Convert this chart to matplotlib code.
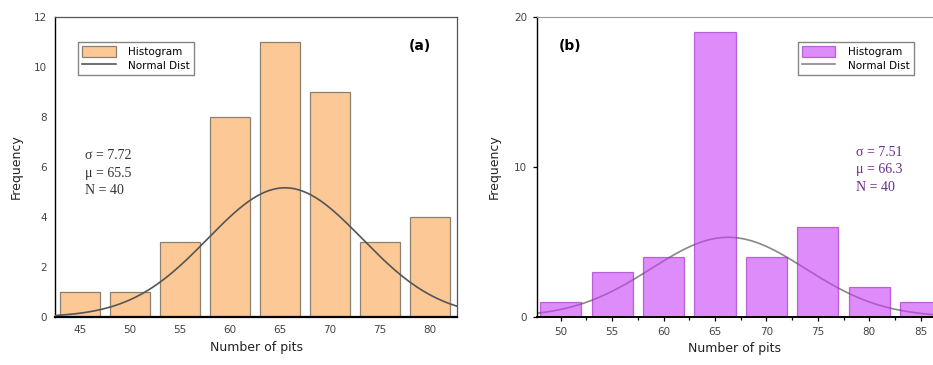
import numpy as np
import matplotlib.pyplot as plt

# panel (a)
centers_a = [45, 50, 55, 60, 65, 70, 75, 80]
counts_a = [1, 1, 3, 8, 11, 9, 3, 4]
mu_a, sigma_a, n_a = 65.5, 7.72, 40

# panel (b)
centers_b = [50, 55, 60, 65, 70, 75, 80, 85]
counts_b = [1, 3, 4, 19, 4, 6, 2, 1]
mu_b, sigma_b, n_b = 66.3, 7.51, 40

# curve scale (peak height ~ scale / (sigma*sqrt(2pi)))
curve_scale = 100.0


def normal_curve(x, mu, sigma):
    return curve_scale / (sigma * np.sqrt(2 * np.pi)) * np.exp(-0.5 * ((x - mu) / sigma) ** 2)


fig = plt.figure(figsize=(9.33, 3.65), dpi=100)

# ---- (a)
ax1 = fig.add_axes([55 / 933, 48 / 365, 402 / 933, 300 / 365])
ax1.bar(centers_a, counts_a, width=4, color="#fcc896", edgecolor="#8c8070", linewidth=0.9,
        label="Histogram", zorder=2)
xa = np.linspace(42.5, 82.7, 300)
ax1.plot(xa, normal_curve(xa, mu_a, sigma_a), color="#555555", lw=1.2, label="Normal Dist", zorder=3)
ax1.set_xlim(42.5, 82.7)
ax1.set_ylim(0, 12)
ax1.set_xticks(centers_a)
ax1.set_yticks(range(0, 13, 2))
ax1.tick_params(length=0, labelsize=7.5, labelcolor="#444444", pad=6)
ax1.set_xlabel("Number of pits", fontsize=9, color="#222222", labelpad=4)
ax1.set_ylabel("Frequency", fontsize=9, color="#222222", labelpad=8)
for s in ["top", "right"]:
    ax1.spines[s].set_color("#555555")
    ax1.spines[s].set_linewidth(0.9)
ax1.spines["left"].set_linewidth(1.0)
ax1.spines["bottom"].set_linewidth(1.6)
handles, labels = ax1.get_legend_handles_labels()
order = [labels.index("Histogram"), labels.index("Normal Dist")]
ax1.legend([handles[i] for i in order], [labels[i] for i in order], loc="upper left",
           bbox_to_anchor=(0.045, 0.935), fontsize=7.5, frameon=True,
           fancybox=False, edgecolor="#666666", handlelength=3.2, handleheight=1.2,
           borderpad=0.4, labelspacing=0.3, handletextpad=1.2)
ax1.text(0.935, 0.905, "(a)", transform=ax1.transAxes, fontsize=10, fontweight="bold",
         ha="right", va="center")
ax1.text(0.075, 0.48, "\u03c3 = 7.72\n\u03bc = 65.5\nN = 40", transform=ax1.transAxes,
         family="Liberation Serif", fontsize=10, color="#333333", va="center",
         linespacing=1.45)

# ---- (b)
ax2 = fig.add_axes([537 / 933, 48 / 365, 396 / 933, 300 / 365])
xb = np.linspace(47.7, 86.2, 300)
ax2.plot(xb, normal_curve(xb, mu_b, sigma_b), color="#888888", lw=1.2, label="Normal Dist", zorder=1)
ax2.bar(centers_b, counts_b, width=4, color="#c83ff7", alpha=0.6, edgecolor="#9a1fbf",
        linewidth=0.9, label="Histogram", zorder=2)
ax2.set_xlim(47.7, 86.2)
ax2.set_ylim(0, 20)
ax2.set_xticks(centers_b)
ax2.set_xticks([52.5, 57.5, 62.5, 67.5, 72.5, 77.5, 82.5], minor=True)
ax2.set_yticks([0, 10, 20])
ax2.tick_params(length=3, width=0.9, labelsize=7.5, labelcolor="#444444", pad=4)
ax2.tick_params(which="minor", length=2, width=0.9)
ax2.set_xlabel("Number of pits", fontsize=9, color="#222222", labelpad=4)
ax2.set_ylabel("Frequency", fontsize=9, color="#222222", labelpad=10)
ax2.spines["right"].set_visible(False)
ax2.spines["top"].set_color("#999999")
ax2.spines["left"].set_linewidth(1.0)
ax2.spines["bottom"].set_linewidth(1.4)
handles, labels = ax2.get_legend_handles_labels()
order = [labels.index("Histogram"), labels.index("Normal Dist")]
ax2.legend([handles[i] for i in order], [labels[i] for i in order], loc="upper left",
           bbox_to_anchor=(0.645, 0.935), fontsize=7.5, frameon=True, fancybox=False,
           edgecolor="#666666", handlelength=3.2, handleheight=1.2, borderpad=0.4,
           labelspacing=0.3, handletextpad=1.2)
ax2.text(0.055, 0.905, "(b)", transform=ax2.transAxes, fontsize=10, fontweight="bold",
         ha="left", va="center")
ax2.text(0.805, 0.49, "\u03c3 = 7.51\n\u03bc = 66.3\nN = 40", transform=ax2.transAxes,
         family="Liberation Serif", fontsize=10, color="#6a2d8c", va="center",
         linespacing=1.45)

fig.savefig("out.png", dpi=100)
